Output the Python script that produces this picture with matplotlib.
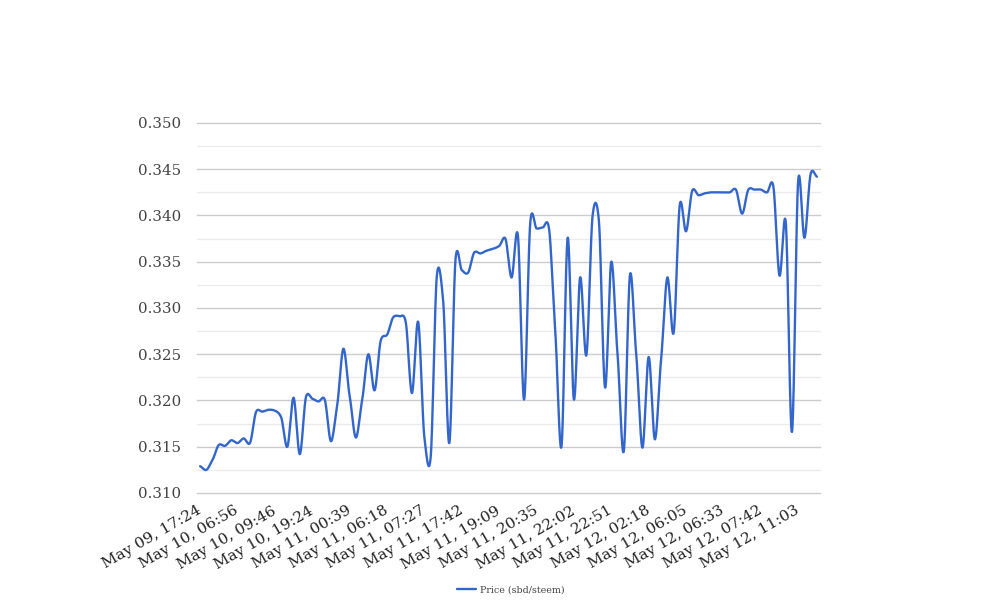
import numpy as np
import matplotlib
matplotlib.use("Agg")
import matplotlib.pyplot as plt

# ---- data ----
prices = [
    0.3129, 0.3125, 0.3136, 0.3152, 0.3151, 0.3157, 0.3154, 0.3159, 0.3154, 0.3188,
    0.3188, 0.3190, 0.3189, 0.3182, 0.3150, 0.3203, 0.3142, 0.3204, 0.3202, 0.3199,
    0.3201, 0.3156, 0.3195, 0.3256, 0.3205, 0.3160, 0.3200, 0.3250, 0.3211, 0.3265,
    0.3271, 0.3290, 0.3291, 0.3285, 0.3208, 0.3285, 0.3160, 0.3138, 0.3335, 0.3309,
    0.3154, 0.3353, 0.3341, 0.3338, 0.3360, 0.3359, 0.3362, 0.3364, 0.3367, 0.3375,
    0.3333, 0.3379, 0.3201, 0.3393, 0.3386, 0.3387, 0.3386, 0.3275, 0.3150, 0.3376,
    0.3201, 0.3333, 0.3249, 0.3400, 0.3395, 0.3214, 0.3350, 0.3250, 0.3145, 0.3336,
    0.3250, 0.3149, 0.3247, 0.3158, 0.3245, 0.3333, 0.3273, 0.3412, 0.3383, 0.3427,
    0.3422, 0.3424, 0.3425, 0.3425, 0.3425, 0.3425, 0.3428, 0.3402, 0.3428, 0.3428,
    0.3428, 0.3425, 0.3432, 0.3335, 0.3393, 0.3166, 0.3438, 0.3376, 0.3445, 0.3442,
]
tick_labels = [
    "May 09, 17:24", "May 10, 06:56", "May 10, 09:46", "May 10, 19:24",
    "May 11, 00:39", "May 11, 06:18", "May 11, 07:27", "May 11, 17:42",
    "May 11, 19:09", "May 11, 20:35", "May 11, 22:02", "May 11, 22:51",
    "May 12, 02:18", "May 12, 06:05", "May 12, 06:33", "May 12, 07:42",
    "May 12, 11:03",
]
label_every = 6
series_name = "Price (sbd/steem)"
y_min, y_max, y_step = 0.310, 0.350, 0.005

# ---- smooth curve (cardinal spline through the data points) ----
p = np.asarray(prices)
n = len(p)
xs = np.arange(n, dtype=float)
tension = 0.78
m = np.empty(n)
m[1:-1] = tension * (p[2:] - p[:-2]) / 2.0
m[0] = tension * (p[1] - p[0])
m[-1] = tension * (p[-1] - p[-2])
sx, sy = [], []
for i in range(n - 1):
    t = np.linspace(0, 1, 25, endpoint=(i == n - 2))
    h00 = 2 * t**3 - 3 * t**2 + 1
    h10 = t**3 - 2 * t**2 + t
    h01 = -2 * t**3 + 3 * t**2
    h11 = t**3 - t**2
    sy.append(h00 * p[i] + h10 * m[i] + h01 * p[i + 1] + h11 * m[i + 1])
    sx.append(xs[i] + t)
sx = np.concatenate(sx)
sy = np.concatenate(sy)

# ---- figure ----
fig = plt.figure(figsize=(10.08, 6.16), dpi=100)
ax = fig.add_axes([197 / 1008, 123 / 616, 623 / 1008, 370 / 616])

major = np.arange(y_min, y_max + 1e-9, y_step)
minor = major[:-1] + y_step / 2
for v in minor:
    ax.axhline(v, color="#ebebeb", lw=1, zorder=0, clip_on=False)
for v in major:
    ax.axhline(v, color="#cccccc", lw=1, zorder=0, clip_on=False)

line, = ax.plot(sx, sy, color="#3366cc", lw=1.7, solid_capstyle="round",
                solid_joinstyle="round", label=series_name, zorder=3)

ax.set_xlim(-0.5, n - 0.5)
ax.set_ylim(y_min, y_max)
for s in ax.spines.values():
    s.set_visible(False)

ax.set_yticks(major)
ax.set_yticklabels([f"{v:.3f}" for v in major], family="DejaVu Serif",
                   fontsize=10.8, color="#444444")
ax.tick_params(axis="y", length=0, pad=11.5)

tick_pos = np.arange(0, n, label_every)[:len(tick_labels)]
ax.set_xticks(tick_pos)
ax.set_xticklabels(tick_labels, rotation=30, ha="right", va="center",
                   rotation_mode="anchor", family="DejaVu Serif",
                   fontsize=11, color="#222222")
ax.tick_params(axis="x", length=0, pad=12)

leg = fig.legend(handles=[line], labels=[series_name], loc="center",
                 bbox_to_anchor=(511 / 1008, 1 - 590 / 616), frameon=False,
                 prop={"family": "DejaVu Serif", "size": 6.8},
                 handlelength=2.0, handletextpad=0.5)
for t in leg.get_texts():
    t.set_color("#444444")

fig.savefig("out.png", dpi=100, facecolor="white")
